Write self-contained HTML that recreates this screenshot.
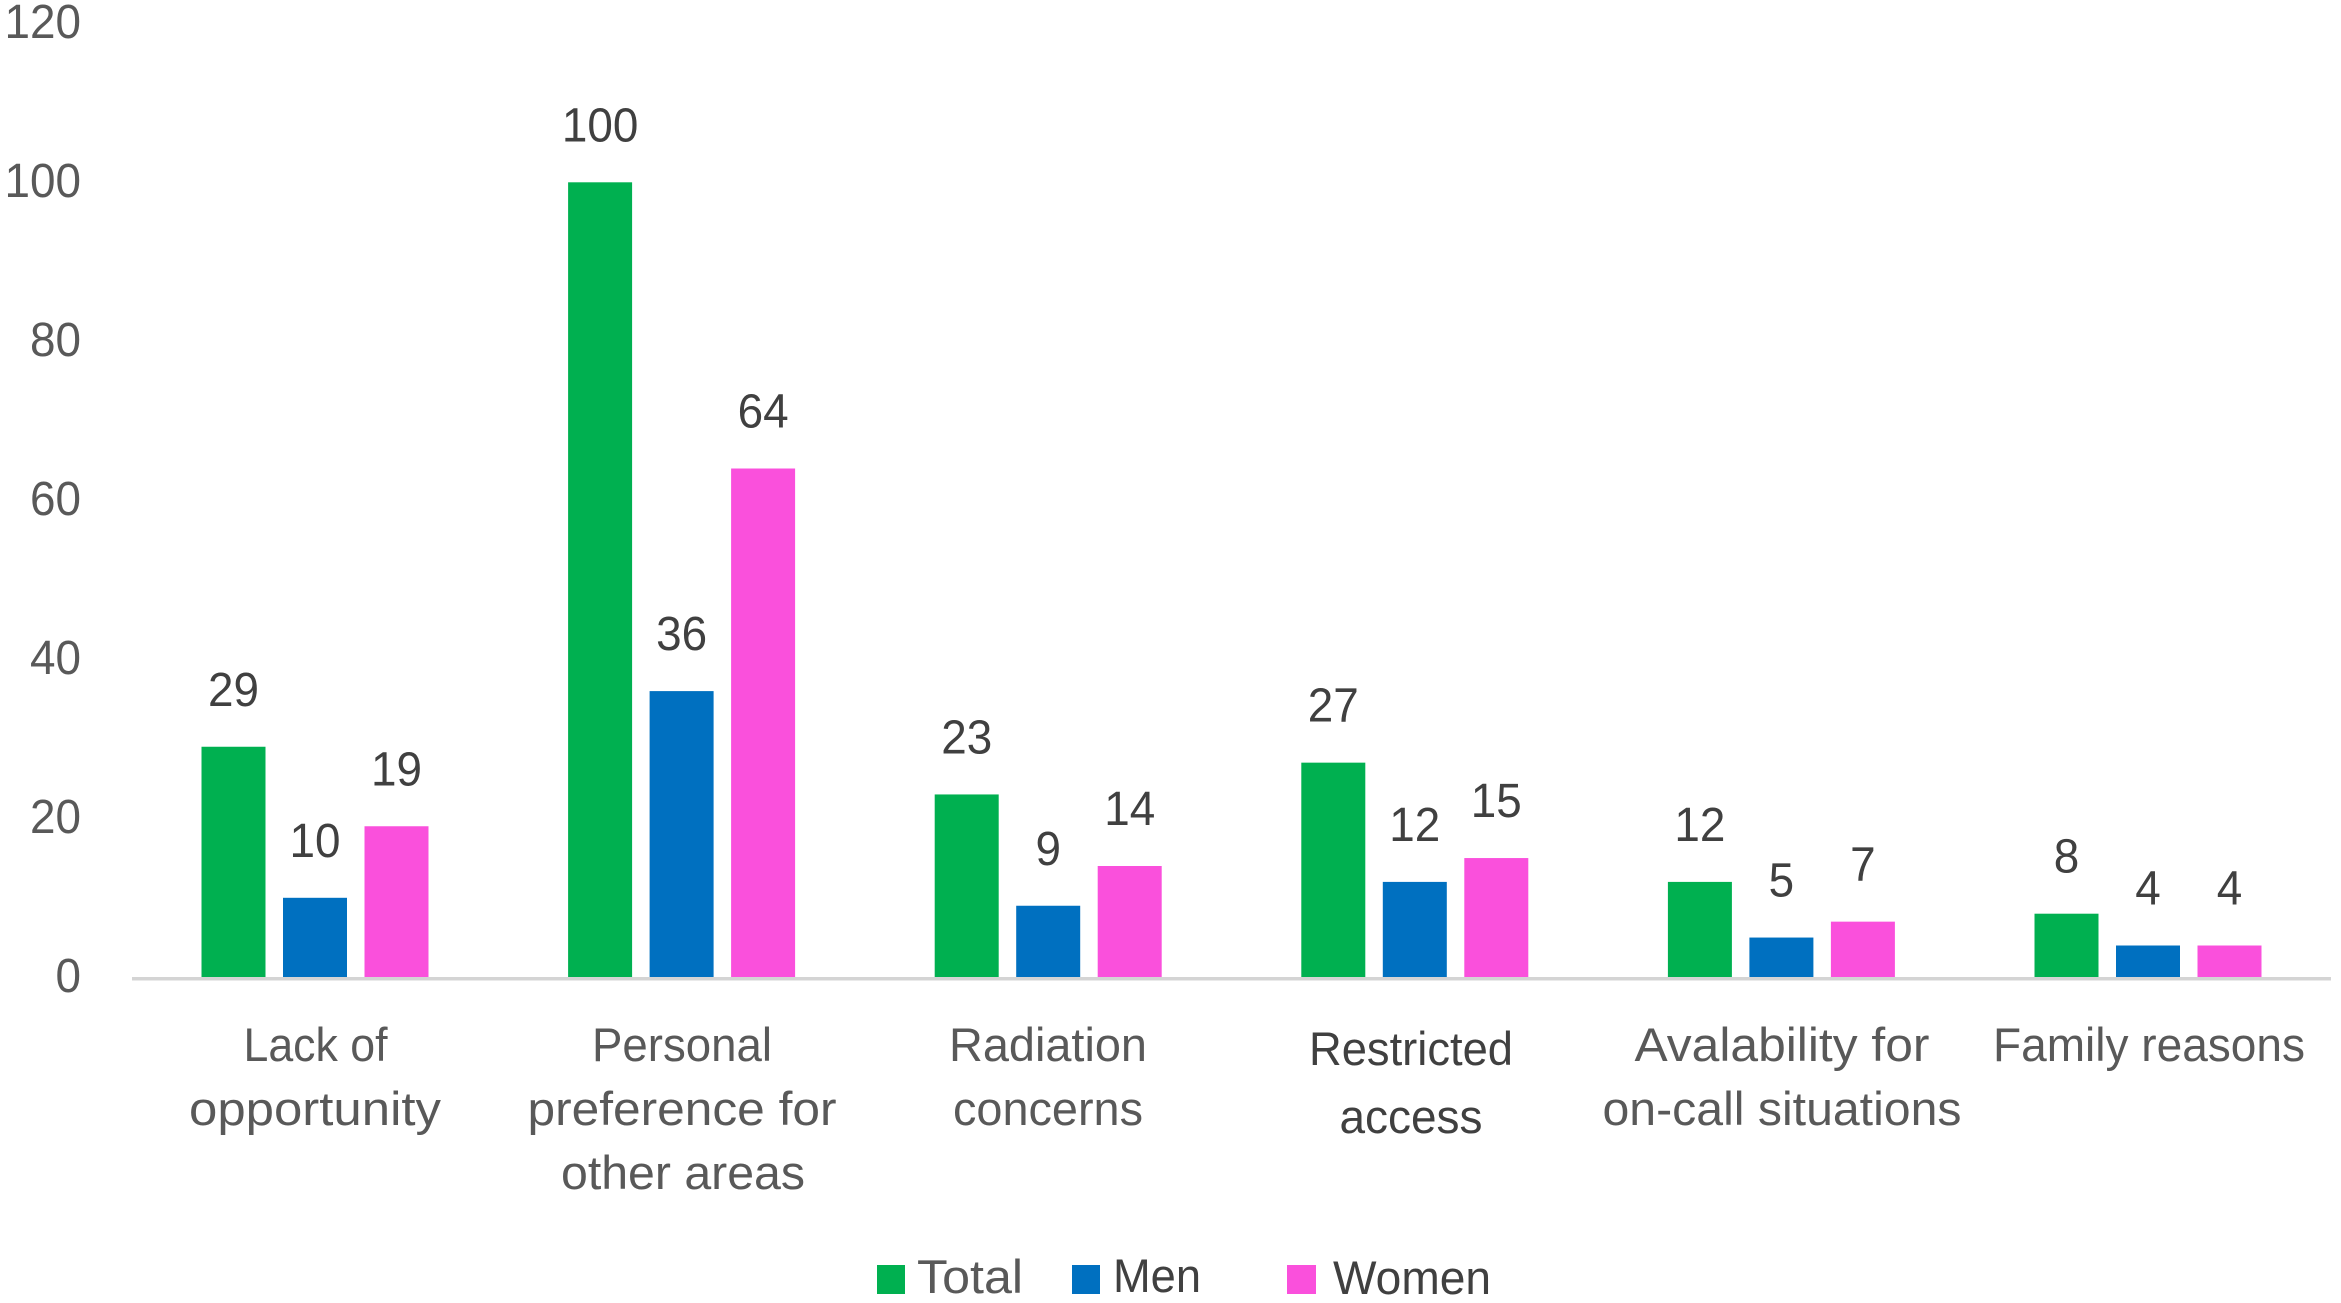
<!DOCTYPE html>
<html lang="en">
<head>
<meta charset="utf-8">
<title>Reasons by gender bar chart</title>
<style>
  html, body { margin: 0; padding: 0; background: #ffffff; }
  svg { display: block; }
  text { font-family: "Liberation Sans", Arial, sans-serif; font-size: 47px; }
  .cat { fill: #595959; text-anchor: middle; }
  .tick { fill: #595959; text-anchor: end; font-size: 48px; }
  .val { fill: #404040; text-anchor: middle; font-size: 48px; }
</style>
</head>
<body>
<svg id="chart" xmlns="http://www.w3.org/2000/svg" width="2341" height="1303" viewBox="0 0 2341 1303">
  <rect x="0" y="0" width="2341" height="1303" fill="#ffffff"/>
  <g id="bars"></g>
  <rect x="132" y="977" width="2199" height="3.5" fill="#d4d4d4"/>
  <g id="yticks"></g>
  <g id="values"></g>

  <g>
    <g>
      <text class="cat" x="315.5" y="1061" textLength="144" lengthAdjust="spacingAndGlyphs">Lack of</text>
      <text class="cat" x="315" y="1125" textLength="252" lengthAdjust="spacingAndGlyphs">opportunity</text>
    </g>
    <g>
      <text class="cat" x="682" y="1061" textLength="180" lengthAdjust="spacingAndGlyphs">Personal</text>
      <text class="cat" x="682" y="1125" textLength="309" lengthAdjust="spacingAndGlyphs">preference for</text>
      <text class="cat" x="683" y="1189" textLength="244" lengthAdjust="spacingAndGlyphs">other areas</text>
    </g>
    <g>
      <text class="cat" x="1048" y="1061" textLength="198" lengthAdjust="spacingAndGlyphs">Radiation</text>
      <text class="cat" x="1048" y="1125" textLength="190" lengthAdjust="spacingAndGlyphs">concerns</text>
    </g>
    <g>
      <text class="cat" style="fill:#404040" x="1411" y="1065" textLength="204" lengthAdjust="spacingAndGlyphs">Restricted</text>
      <text class="cat" style="fill:#404040" x="1411" y="1133" textLength="143" lengthAdjust="spacingAndGlyphs">access</text>
    </g>
    <g>
      <text class="cat" x="1782" y="1061" textLength="295" lengthAdjust="spacingAndGlyphs">Avalability for</text>
      <text class="cat" x="1782" y="1125" textLength="359" lengthAdjust="spacingAndGlyphs">on-call situations</text>
    </g>
    <g>
      <text class="cat" x="2149" y="1061" textLength="312" lengthAdjust="spacingAndGlyphs">Family reasons</text>
    </g>
  </g>

  <g>
    <g>
      <rect x="877" y="1265" width="28" height="29" fill="#00B050"/>
      <text x="917" y="1293" textLength="106" lengthAdjust="spacingAndGlyphs" fill="#595959">Total</text>
    </g>
    <g>
      <rect x="1072" y="1265" width="28" height="29" fill="#0070C0"/>
      <text x="1113" y="1292" textLength="88" lengthAdjust="spacingAndGlyphs" fill="#404040">Men</text>
    </g>
    <g>
      <rect x="1287" y="1265" width="29" height="29" fill="#FA50DC"/>
      <text x="1333" y="1294" textLength="158" lengthAdjust="spacingAndGlyphs" fill="#404040">Women</text>
    </g>
  </g>
</svg>
<script>
var yTickValues = [0, 20, 40, 60, 80, 100, 120];
var totalValues = [29, 100, 23, 27, 12, 8];
var menValues = [10, 36, 9, 12, 5, 4];
var womenValues = [19, 64, 14, 15, 7, 4];
var seriesNames = ['total', 'men', 'women'];
var seriesColors = ['#00B050', '#0070C0', '#FA50DC'];
var seriesValues = [totalValues, menValues, womenValues];

var NS = 'http://www.w3.org/2000/svg';
var BASELINE = 977.3, UNIT = 7.95, FIRST_GROUP = 315, GROUP_STEP = 366.6, BAR_STEP = 81.5, BAR_WIDTH = 64, DIGIT_WIDTH = 25.5;
function yScale(v) { return BASELINE - v * UNIT; }
function xScale(groupIndex, seriesIndex) { return FIRST_GROUP + groupIndex * GROUP_STEP + (seriesIndex - 1) * BAR_STEP; }

var barsLayer = document.getElementById('bars');
var valuesLayer = document.getElementById('values');
var ticksLayer = document.getElementById('yticks');

seriesValues.forEach(function (values, s) {
  values.forEach(function (v, g) {
    var cx = xScale(g, s);
    var bar = document.createElementNS(NS, 'rect');
    
    
    bar.setAttribute('x', cx - BAR_WIDTH / 2);
    bar.setAttribute('y', yScale(v));
    bar.setAttribute('width', BAR_WIDTH);
    bar.setAttribute('height', BASELINE - yScale(v));
    bar.setAttribute('fill', seriesColors[s]);
    barsLayer.appendChild(bar);

    var label = document.createElementNS(NS, 'text');
    
    
    label.setAttribute('class', 'val');
    label.setAttribute('x', cx);
    label.setAttribute('y', yScale(v) - 41);
    label.setAttribute('textLength', String(v).length * DIGIT_WIDTH);
    label.setAttribute('lengthAdjust', 'spacingAndGlyphs');
    label.textContent = String(v);
    valuesLayer.appendChild(label);
  });
});

yTickValues.forEach(function (t) {
  var tick = document.createElementNS(NS, 'text');
  
  
  tick.setAttribute('class', 'tick');
  tick.setAttribute('x', 81);
  tick.setAttribute('y', yScale(t) + 14.7);
  tick.setAttribute('textLength', String(t).length * DIGIT_WIDTH);
  tick.setAttribute('lengthAdjust', 'spacingAndGlyphs');
  tick.textContent = String(t);
  ticksLayer.appendChild(tick);
});
</script>
</body>
</html>
